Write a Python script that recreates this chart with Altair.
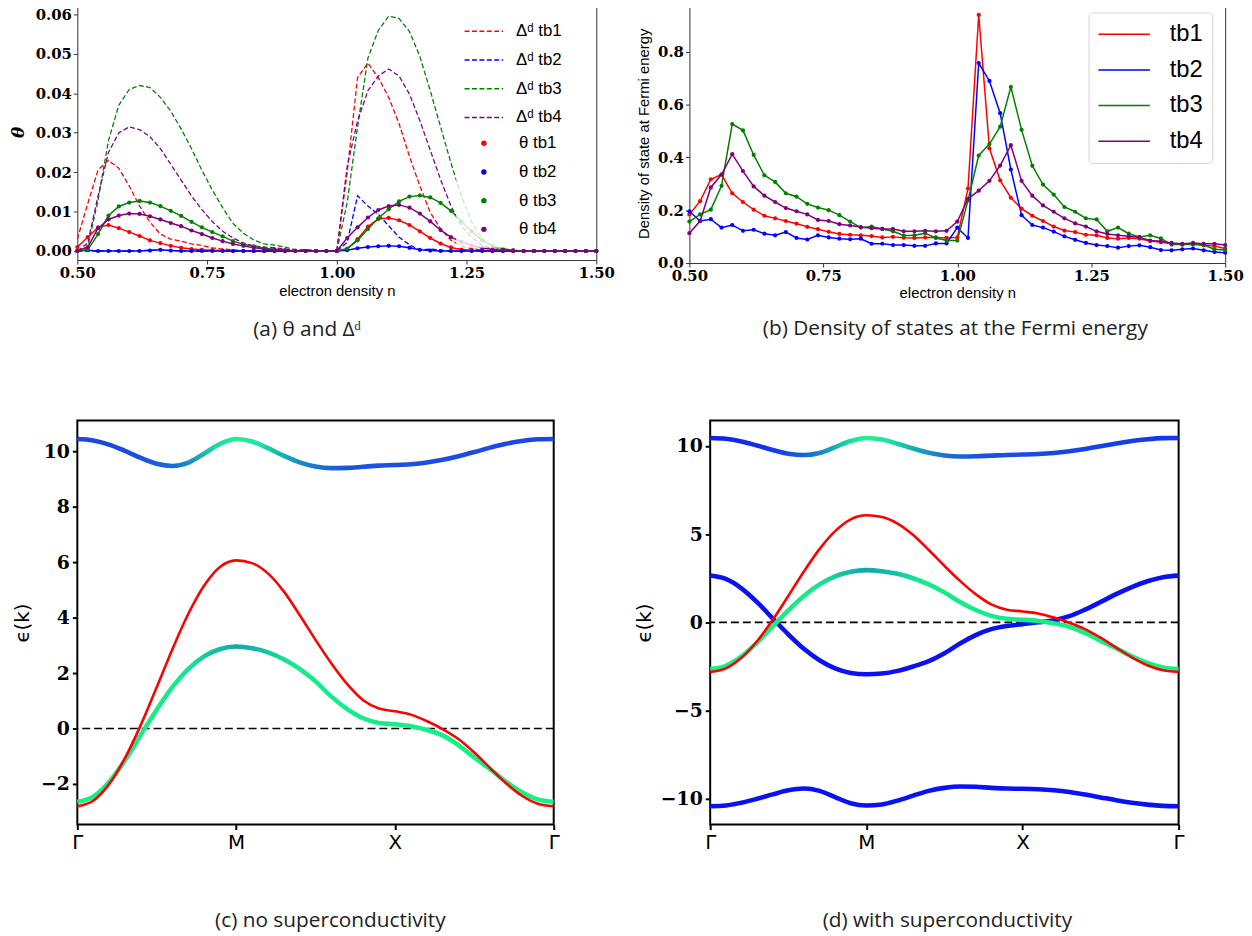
import altair as alt
import pandas as pd

# ---------------- data: panels (a) and (b) ----------------
density = [round(0.50 + 0.02 * i, 2) for i in range(51)]

theta_tb1 = [0.001, 0.0035, 0.006, 0.0066, 0.0058, 0.0048, 0.0038, 0.0027, 0.002, 0.0013,
             0.0008, 0.0005, 0.0003, 0.0002, 0.0001, 0, 0, 0, 0, 0,
             0, 0, 0, 0, 0,
             0, 0.0005, 0.003, 0.0062, 0.0081, 0.0084, 0.0078, 0.0066, 0.005, 0.0033,
             0.0019, 0.0009, 0.0004, 0.0002, 0.0001, 0, 0, 0, 0, 0,
             0, 0, 0, 0, 0, 0]
theta_tb2 = [0, 0.0002, 0, 0, 0, 0, 0, 0.0001, 0.0003, 0.0001,
             0, 0, 0, 0, 0, 0, 0, 0, 0, 0,
             0, 0, 0, 0, 0,
             0, 0.0002, 0.0007, 0.001, 0.0012, 0.0013, 0.0012, 0.0008, 0.0003, 0.0001,
             0, 0, 0, 0, 0, 0, 0, 0, 0, 0,
             0, 0, 0, 0, 0, 0]
theta_tb3 = [0, 0.0003, 0.0043, 0.009, 0.0113, 0.0123, 0.0127, 0.0123, 0.0114, 0.0102,
             0.0089, 0.0074, 0.006, 0.0048, 0.0037, 0.0025, 0.0017, 0.0012, 0.0007, 0.0004,
             0.0002, 0.0001, 0, 0, 0,
             0, 0.0006, 0.0027, 0.0056, 0.0083, 0.0106, 0.0126, 0.0138, 0.0141, 0.0136,
             0.0122, 0.0102, 0.0075, 0.005, 0.0027, 0.0013, 0.0006, 0.0002, 0, 0,
             0, 0, 0, 0, 0, 0]
theta_tb4 = [0, 0.001, 0.0058, 0.008, 0.009, 0.0095, 0.0094, 0.0088, 0.008, 0.0071,
             0.0063, 0.0052, 0.0043, 0.0033, 0.0025, 0.0018, 0.0013, 0.0008, 0.0005, 0.0003,
             0.0001, 0, 0, 0, 0,
             0, 0.0033, 0.006, 0.0085, 0.0104, 0.0114, 0.0117, 0.011, 0.0095, 0.0075,
             0.0053, 0.0035, 0.0023, 0.0014, 0.0008, 0.0004, 0.0002, 0, 0, 0,
             0, 0, 0, 0, 0, 0]

delta_tb1 = [0.003, 0.012, 0.0206, 0.023, 0.021, 0.0165, 0.0114, 0.0073, 0.0043, 0.003,
             0.0025, 0.0018, 0.0014, 0.0008, 0.0005, 0.0003, 0.0001, 0, 0, 0,
             0, 0, 0, 0, 0,
             0, 0.02, 0.044, 0.0477, 0.044, 0.039, 0.0323, 0.024, 0.0165, 0.0098,
             0.0056, 0.0027, 0.0013, 0.0006, 0.0002, 0, 0, 0, 0, 0,
             0, 0, 0, 0, 0, 0]
delta_tb2 = [0, 0, 0, 0, 0, 0, 0.0001, 0.0002, 0.0002, 0.0001,
             0, 0, 0, 0, 0, 0, 0, 0, 0, 0,
             0, 0, 0, 0, 0,
             0, 0.0022, 0.014, 0.0114, 0.0093, 0.0064, 0.0035, 0.0016, 0.0002, 0.0005,
             0.0002, 0, 0, 0, 0, 0, 0, 0, 0, 0,
             0, 0, 0, 0, 0, 0]
delta_tb3 = [0, 0.001, 0.013, 0.028, 0.037, 0.041, 0.042, 0.0415, 0.039, 0.0355,
             0.031, 0.026, 0.0205, 0.0155, 0.011, 0.007, 0.0045, 0.0028, 0.0018, 0.0015,
             0.001, 0.0003, 0.0003, 0.0001, 0,
             0, 0.0123, 0.0315, 0.049, 0.056, 0.0596, 0.059, 0.0557, 0.0494, 0.0407,
             0.0315, 0.0223, 0.014, 0.0073, 0.0031, 0.001, 0.0004, 0, 0, 0,
             0, 0, 0, 0, 0, 0]
delta_tb4 = [0, 0.002, 0.014, 0.025, 0.030, 0.0315, 0.0308, 0.029, 0.026, 0.022,
             0.018, 0.014, 0.0105, 0.0075, 0.005, 0.0033, 0.002, 0.0013, 0.001, 0.0008,
             0.0005, 0.0002, 0.0003, 0.0001, 0,
             0, 0.0215, 0.033, 0.0407, 0.0444, 0.0462, 0.0444, 0.0398, 0.0331, 0.0256,
             0.0181, 0.0114, 0.0064, 0.0035, 0.0015, 0.0005, 0, 0, 0, 0,
             0, 0, 0, 0, 0, 0]

dos_tb1 = [0.184, 0.234, 0.317, 0.335, 0.264, 0.231, 0.202, 0.179, 0.169, 0.159,
           0.149, 0.137, 0.128, 0.118, 0.110, 0.107, 0.105, 0.102, 0.097, 0.099,
           0.096, 0.095, 0.097, 0.097, 0.095,
           0.097, 0.282, 0.939, 0.434, 0.313, 0.247, 0.206, 0.179, 0.159, 0.138,
           0.123, 0.117, 0.107, 0.105, 0.095, 0.092, 0.095, 0.092, 0.083, 0.079,
           0.073, 0.070, 0.073, 0.067, 0.064, 0.055]
dos_tb2 = [0.196, 0.159, 0.166, 0.134, 0.144, 0.122, 0.126, 0.111, 0.105, 0.117,
           0.095, 0.089, 0.105, 0.097, 0.092, 0.090, 0.092, 0.073, 0.073, 0.068,
           0.068, 0.065, 0.065, 0.074, 0.074,
           0.134, 0.095, 0.757, 0.689, 0.567, 0.354, 0.181, 0.144, 0.134, 0.119,
           0.101, 0.088, 0.076, 0.068, 0.064, 0.058, 0.064, 0.067, 0.060, 0.049,
           0.048, 0.052, 0.055, 0.048, 0.042, 0.039]
dos_tb3 = [0.157, 0.184, 0.202, 0.292, 0.526, 0.502, 0.409, 0.332, 0.307, 0.264,
           0.251, 0.224, 0.210, 0.200, 0.181, 0.157, 0.134, 0.138, 0.129, 0.120,
           0.104, 0.105, 0.113, 0.095, 0.085,
           0.085, 0.237, 0.407, 0.450, 0.516, 0.666, 0.504, 0.368, 0.297, 0.259,
           0.212, 0.194, 0.169, 0.165, 0.120, 0.134, 0.111, 0.099, 0.105, 0.093,
           0.070, 0.070, 0.070, 0.068, 0.052, 0.049]
dos_tb4 = [0.113, 0.159, 0.286, 0.335, 0.412, 0.348, 0.290, 0.255, 0.231, 0.208,
           0.196, 0.184, 0.163, 0.159, 0.147, 0.142, 0.136, 0.132, 0.129, 0.129,
           0.120, 0.120, 0.122, 0.120, 0.122,
           0.157, 0.243, 0.274, 0.311, 0.369, 0.446, 0.311, 0.255, 0.218, 0.194,
           0.169, 0.150, 0.138, 0.120, 0.110, 0.105, 0.101, 0.097, 0.085, 0.082,
           0.076, 0.073, 0.076, 0.073, 0.073, 0.068]

series_names = ["tb1", "tb2", "tb3", "tb4"]
series_colors = ["#ff0000", "#0000ff", "#008000", "#800080"]

# ---------------- data: panels (c) and (d) (path Γ-M-X-Γ, s = 0..3) ----------------
k_path = [round(0.1 * i, 1) for i in range(31)]
k_ticks = [0, 1, 2, 3]
k_labels = ["Γ", "M", "X", "Γ"]

band_upper = [10.45, 10.4, 10.25, 10.02, 9.77, 9.56, 9.48, 9.6, 9.93, 10.28,
              10.45, 10.36, 10.12, 9.85, 9.61, 9.46, 9.4, 9.41, 9.45, 9.49,
              9.51, 9.54, 9.6, 9.7, 9.83, 9.98, 10.14, 10.28, 10.38, 10.44, 10.45]
band_red = [-2.81, -2.61, -2.01, -1.07, 0.13, 1.49, 2.88, 4.15, 5.17, 5.84,
            6.07, 5.97, 5.6, 4.95, 4.1, 3.2, 2.35, 1.6, 1.02, 0.72,
            0.62, 0.5, 0.27, -0.02, -0.38, -0.87, -1.43, -1.98, -2.43, -2.72, -2.81]
band_green = [-2.65, -2.46, -1.93, -1.15, -0.23, 0.68, 1.50, 2.15, 2.61, 2.87,
              2.96, 2.9, 2.75, 2.5, 2.15, 1.7, 1.15, 0.7, 0.37, 0.2,
              0.15, 0.08, -0.05, -0.25, -0.6, -1.05, -1.47, -1.93, -2.3, -2.56, -2.65]
band_hole = [2.65, 2.46, 1.93, 1.15, 0.23, -0.68, -1.50, -2.15, -2.61, -2.87,
             -2.94, -2.9, -2.75, -2.5, -2.2, -1.75, -1.2, -0.72, -0.38, -0.2,
             -0.1, 0.0, 0.12, 0.35, 0.72, 1.15, 1.6, 2.0, 2.33, 2.56, 2.65]
band_lower = [-10.42, -10.38, -10.22, -10.0, -9.75, -9.52, -9.42, -9.55, -9.9, -10.25,
              -10.38, -10.32, -10.1, -9.82, -9.55, -9.38, -9.3, -9.32, -9.38, -9.42,
              -9.43, -9.46, -9.52, -9.62, -9.76, -9.92, -10.08, -10.22, -10.33, -10.4, -10.42]

# colour stops along the path (offset = s / 3)
upper_stops_c = [(0.0, "#1c44e4"), (0.12, "#1c4ce0"), (0.2, "#1a6ad4"), (0.25, "#16a0bc"),
                 (0.29, "#18dca0"), (0.333, "#22f090"), (0.38, "#1ee4a0"), (0.43, "#14b0b4"),
                 (0.5, "#1a72d4"), (0.57, "#1c52e0"), (1.0, "#1c46e6")]
upper_stops_d = [(0.0, "#0c20f0"), (0.12, "#1434ea"), (0.2, "#1a60d8"), (0.26, "#12a8b8"),
                 (0.3, "#18e0a0"), (0.333, "#22f090"), (0.38, "#1ee4a0"), (0.43, "#14b0b4"),
                 (0.5, "#1a72d4"), (0.57, "#1c52e0"), (1.0, "#1236ec")]
green_stops = [(0.0, "#14f284"), (0.22, "#16ea8c"), (0.28, "#14c4a4"), (0.333, "#12a8aa"),
               (0.39, "#14c0a6"), (0.45, "#16ea8c"), (1.0, "#14f284")]
red_color = "#ff0000"
hole_color = "#0a12f4"

# ---------------- helpers ----------------
def long_table(names, arrays, prefix):
    rows = []
    for nm, vals in zip(names, arrays):
        for x, v in zip(density, vals):
            rows.append({"n": x, "v": v, "label": prefix + nm})
    return pd.DataFrame(rows)


def gradient(stops):
    return alt.Gradient(gradient="linear",
                        stops=[alt.GradientStop(offset=o, color=c) for o, c in stops],
                        x1=0, x2=1, y1=0, y2=0)


SERIF = "DejaVu Serif"
SANS = "Liberation Sans"
CAP = "Open Sans"

# ---------------- panel (a) ----------------
delta_labels = ["Δᵈ " + s for s in series_names]
theta_labels = ["θ " + s for s in series_names]
df_delta = long_table(series_names, [delta_tb1, delta_tb2, delta_tb3, delta_tb4], "Δᵈ ")
df_theta = long_table(series_names, [theta_tb1, theta_tb2, theta_tb3, theta_tb4], "θ ")

legend_box = dict(title=None, orient="none", labelFont=SANS, labelFontSize=17,
                  labelColor="black", clipHeight=20, rowPadding=9, padding=8,
                  fillColor="rgba(255,255,255,0.8)", strokeColor="transparent")
legend_delta = alt.Legend(legendX=382, legendY=10, symbolType="stroke", symbolSize=1521,
                          symbolDash=[5, 2.5], symbolStrokeWidth=1.5, labelOffset=12,
                          **legend_box)
legend_theta = alt.Legend(legendX=382, legendY=123, symbolType="circle", symbolSize=30,
                          symbolStrokeWidth=0, symbolOffset=12, labelOffset=27,
                          **legend_box)

axis_common = dict(grid=False, domain=False, tickColor="#333333", tickWidth=1, tickSize=4,
                   labelFont=SERIF, labelFontWeight="bold", labelFontSize=15, labelColor="black",
                   labelPadding=2, labelFlush=False)

x_a = alt.X("n:Q", scale=alt.Scale(domain=[0.5, 1.5], nice=False, zero=False),
            axis=alt.Axis(values=[0.5, 0.75, 1.0, 1.25, 1.5], format=".2f",
                          title="electron density n", titleFont=SANS, titleFontSize=15,
                          titleFontWeight="normal", titleColor="black", titlePadding=3,
                          **axis_common))
y_a = alt.Y("v:Q", scale=alt.Scale(domain=[-0.0023, 0.0628], nice=False, zero=False),
            axis=alt.Axis(values=[0, 0.01, 0.02, 0.03, 0.04, 0.05, 0.06], format=".2f",
                          title="θ", titleFont=SERIF, titleFontSize=17, titleFontWeight="bold",
                          titleFontStyle="italic", titleColor="black", titlePadding=8,
                          **axis_common))

chart_a = alt.layer(
    alt.Chart(df_delta).mark_line(strokeWidth=1.3).encode(
        x_a, y_a,
        stroke=alt.Stroke("label:N", scale=alt.Scale(domain=delta_labels, range=series_colors),
                          legend=legend_delta),
        strokeDash=alt.value([5, 2.5])),
    alt.Chart(df_theta).mark_line(strokeWidth=1.5).encode(
        x_a, y_a,
        color=alt.Color("label:N", scale=alt.Scale(domain=theta_labels, range=series_colors),
                        legend=None)),
    alt.Chart(df_theta).mark_circle(size=18, opacity=1).encode(
        x_a, y_a,
        fill=alt.Fill("label:N", scale=alt.Scale(domain=theta_labels, range=series_colors),
                      legend=legend_theta)),
).resolve_legend(stroke="independent", fill="independent").properties(
    width=524, height=259,
    view=alt.ViewBackground(stroke="#333333", strokeWidth=1),
    title=alt.TitleParams("(a) θ and Δᵈ", orient="bottom", anchor="middle", frame="group",
                          font=CAP, fontSize=21, fontWeight="normal", color="#222222",
                          offset=21, dx=-30),
)

# ---------------- panel (b) ----------------
df_dos = long_table(series_names, [dos_tb1, dos_tb2, dos_tb3, dos_tb4], "")
color_b = alt.Color("label:N", scale=alt.Scale(domain=series_names, range=series_colors),
                    legend=alt.Legend(title=None, orient="none", legendX=403, legendY=9,
                                      symbolType="stroke", symbolSize=2704, symbolStrokeWidth=1.5,
                                      labelFont=SANS, labelFontSize=24, labelColor="black",
                                      labelOffset=19, clipHeight=26, rowPadding=10, padding=9,
                                      fillColor="rgba(255,255,255,0.8)", strokeColor="#d6d6d6",
                                      cornerRadius=4))
x_b = alt.X("n:Q", scale=alt.Scale(domain=[0.5, 1.5], nice=False, zero=False),
            axis=alt.Axis(values=[0.5, 0.75, 1.0, 1.25, 1.5], format=".2f",
                          title="electron density n", titleFont=SANS, titleFontSize=15,
                          titleFontWeight="normal", titleColor="black", titlePadding=2,
                          **axis_common))
y_b = alt.Y("v:Q", scale=alt.Scale(domain=[0, 0.982], nice=False, zero=False),
            axis=alt.Axis(values=[0, 0.2, 0.4, 0.6, 0.8], format=".1f",
                          title="Density of state at Fermi energy", titleFont=SANS,
                          titleFontSize=15, titleFontWeight="normal", titleColor="black",
                          titlePadding=6, **axis_common))
chart_b = alt.layer(
    alt.Chart(df_dos).mark_line(strokeWidth=1.5).encode(x_b, y_b, color_b),
    alt.Chart(df_dos).mark_circle(size=18, opacity=1).encode(x_b, y_b, color_b),
).properties(
    width=541, height=262,
    view=alt.ViewBackground(stroke="#333333", strokeWidth=1),
    title=alt.TitleParams("(b) Density of states at the Fermi energy", orient="bottom",
                          anchor="middle", frame="group", font=CAP, fontSize=21,
                          fontWeight="normal", color="#222222", offset=18, dx=-2),
)

# ---------------- panels (c) and (d) ----------------
band_axis = dict(grid=False, domain=False, tickColor="black", tickWidth=2, tickSize=5,
                 labelColor="black", labelFlush=False)


def band_panel(bands, y_domain, y_ticks, caption, width, height, title_pad, cap_dx):
    x_enc = alt.X("s:Q", scale=alt.Scale(domain=[0, 3], nice=False, zero=False),
                  axis=alt.Axis(values=k_ticks, title=None, labelFont="DejaVu Sans",
                                labelFontSize=20, labelPadding=3,
                                labelExpr="['Γ','M','X','Γ'][round(datum.value)]", **band_axis))
    y_enc = alt.Y("e:Q", scale=alt.Scale(domain=y_domain, nice=False, zero=False),
                  axis=alt.Axis(values=y_ticks, title="ϵ(k)", titleFont="DejaVu Sans",
                                titleFontSize=20, titleFontWeight="normal", titleColor="black",
                                titlePadding=title_pad, labelFont=SERIF, labelFontWeight="bold",
                                labelFontSize=19, labelPadding=3, **band_axis))
    zero_line = alt.Chart(pd.DataFrame({"e": [0]})).mark_rule(
        color="black", strokeDash=[8, 4], strokeWidth=1.6).encode(y=y_enc)
    layers = [zero_line]
    for vals, color, width_px in bands:
        df = pd.DataFrame({"s": k_path, "e": vals})
        layers.append(alt.Chart(df).mark_line(color=color, strokeWidth=width_px,
                                              interpolate="monotone").encode(x=x_enc, y=y_enc))
    return alt.layer(*layers).properties(
        width=width, height=height,
        view=alt.ViewBackground(stroke="black", strokeWidth=2),
        title=alt.TitleParams(caption, orient="bottom", anchor="middle", frame="group",
                              font=CAP, fontSize=21, fontWeight="normal", color="#222222",
                              offset=58, dx=cap_dx),
    )


chart_c = band_panel(
    [(band_upper, gradient(upper_stops_c), 4.6),
     (band_green, gradient(green_stops), 4.6),
     (band_red, red_color, 2.6)],
    [-3.47, 11.12], [-2, 0, 2, 4, 6, 8, 10], "(c) no superconductivity", 481, 408, 8, 15)

chart_d = band_panel(
    [(band_upper, gradient(upper_stops_d), 4.6),
     (band_lower, hole_color, 4.6),
     (band_hole, hole_color, 4.6),
     (band_green, gradient(green_stops), 4.6),
     (band_red, red_color, 2.6)],
    [-11.46, 11.44], [-10, -5, 0, 5, 10], "(d) with superconductivity", 473, 408, 6, 3)

row1 = alt.hconcat(chart_a, chart_b, spacing=21).resolve_scale(
    color="independent", stroke="independent", fill="independent").resolve_legend(
    color="independent", stroke="independent", fill="independent")
row2 = alt.hconcat(chart_c, chart_d, spacing=69)

chart = alt.vconcat(row1, row2, spacing=79).resolve_scale(
    color="independent", stroke="independent", fill="independent").properties(
    padding={"left": 0, "top": -10, "right": 0, "bottom": 0},
    background="white",
)

chart.save("out.html", embed_options={"renderer": "svg", "actions": False})
